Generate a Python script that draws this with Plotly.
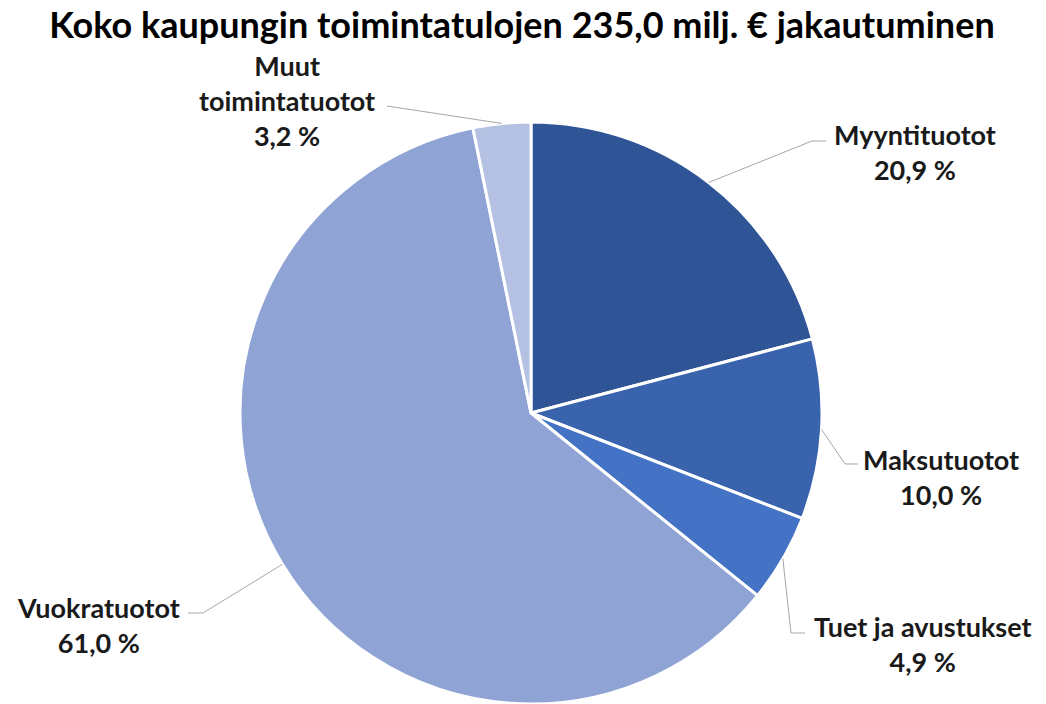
import math
import plotly.graph_objects as go

# ---- data ----
categories = ["Myyntituotot", "Maksutuotot", "Tuet ja avustukset", "Vuokratuotot", "Muut toimintatuotot"]
label_text = ["Myyntituotot", "Maksutuotot", "Tuet ja avustukset", "Vuokratuotot", "Muut<br>toimintatuotot"]
shares = [20.9, 10.0, 4.9, 61.0, 3.2]
colors = ["#2F5597", "#3A63AD", "#4472C4", "#8FA4D5", "#B4C1E3"]
title_text = "Koko kaupungin toimintatulojen 235,0 milj. € jakautuminen"

# ---- layout constants (pixels) ----
W, H = 1046, 704
CX, CY, R = 531, 413, 291
# label anchor (text centre), elbow point, line end point
label_pos = [(915, 152), (941, 477), (923, 644), (98, 625), (287, 100)]
elbows = [(812, 141), (845, 464), (791, 633), (203, 613), (387, 106)]
ends = [(826, 141), (858, 464), (805, 633), (188, 613), (387, 106)]


def px(x, y):
    return x / W, 1 - y / H


def clamp(v):
    return min(1.0, max(0.0, v))


fig = go.Figure(go.Pie(
    labels=categories,
    values=shares,
    sort=False,
    direction="clockwise",
    rotation=0,
    textinfo="none",
    hoverinfo="label+percent",
    marker=dict(colors=colors, line=dict(color="white", width=3)),
    domain=dict(x=[clamp((CX - R) / W), clamp((CX + R) / W)],
                y=[clamp(1 - (CY + R) / H), clamp(1 - (CY - R) / H)]),
    showlegend=False,
))

total = sum(shares)
cum = 0.0
shapes = []
annotations = []
for i, v in enumerate(shares):
    mid = (cum + v / 2) / total * 2 * math.pi
    cum += v
    sx = CX + R * math.sin(mid)
    sy = CY - R * math.cos(mid)
    pts = [(sx, sy), elbows[i], ends[i]]
    path = "M " + " L ".join(f"{px(x, y)[0]:.5f},{px(x, y)[1]:.5f}" for x, y in pts)
    shapes.append(dict(type="path", path=path, xref="paper", yref="paper",
                       line=dict(color="#A6A6A6", width=1)))
    lx, ly = px(*label_pos[i])
    pct = f"{v:.1f}".replace(".", ",") + " %"
    annotations.append(dict(
        x=lx, y=ly, xref="paper", yref="paper", xanchor="center", yanchor="middle",
        text=f"<b>{label_text[i]}<br>{pct}</b>", showarrow=False, align="center",
        font=dict(family="Lato, Open Sans, sans-serif", size=27, color="#1A1A1A"),
    ))

fig.update_layout(
    width=W, height=H,
    margin=dict(l=0, r=0, t=0, b=0),
    paper_bgcolor="white", plot_bgcolor="white",
    title=dict(text=f"<b>{title_text}</b>", x=0.499, xanchor="center", y=1 - 25 / H, yanchor="middle",
               font=dict(family="Lato, sans-serif", size=36, color="#000000")),
    shapes=shapes,
    annotations=annotations,
)

fig.write_html("out.html")
